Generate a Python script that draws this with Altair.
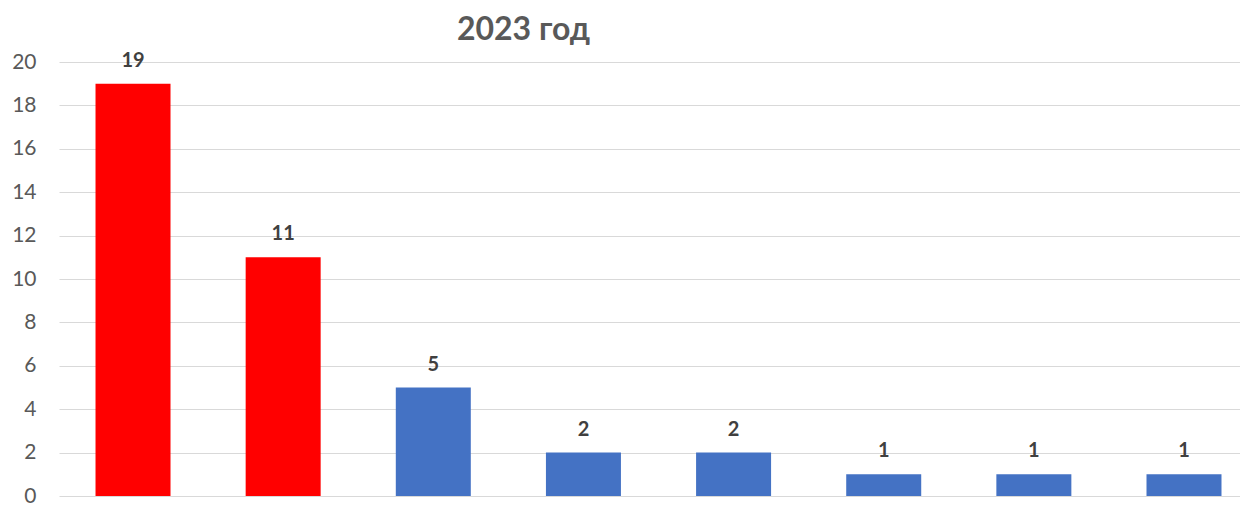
import altair as alt
import pandas as pd

categories = ["A", "B", "C", "D", "E", "F", "G", "H"]
values = [19, 11, 5, 2, 2, 1, 1, 1]
colors = ["#FF0000", "#FF0000", "#4472C4", "#4472C4", "#4472C4", "#4472C4", "#4472C4", "#4472C4"]

df = pd.DataFrame({
    "cat": categories,
    "idx": list(range(len(categories))),
    "value": values,
    "color": colors,
})

x = alt.X("idx:Q", scale=alt.Scale(domain=[-0.493, 7.373], nice=False, zero=False, padding=0), axis=None)
y = alt.Y("value:Q", scale=alt.Scale(domain=[0, 20], nice=False),
          axis=alt.Axis(values=list(range(0, 21, 2)), title=None, domain=False, ticks=False,
                        labelFontSize=21, labelColor="#595959", labelFont="Lato", labelPadding=23,
                        gridColor="#d9d9d9", gridWidth=1.2))

bars = alt.Chart(df).mark_bar(size=75).encode(
    x=x, y=y, color=alt.Color("color:N", scale=None)
)
labels = alt.Chart(df).mark_text(baseline="alphabetic", dy=-17, fontSize=20, fontWeight="bold",
                                 font="Lato", color="#404040").encode(
    x=x, y=y, text="value:Q"
)

chart = (bars + labels).properties(
    width=1181, height=434,
    title=alt.TitleParams("2023 год", fontSize=32, fontWeight="bold", color="#595959", font="Lato",
                          anchor="middle", dx=-126, offset=4),
    autosize=alt.AutoSizeParams(type="none"),
    padding={"left": 51, "top": 54, "right": 0, "bottom": 10},
).configure_view(stroke=None)

chart.save("out.html", embed_options={"renderer": "svg", "actions": False})
